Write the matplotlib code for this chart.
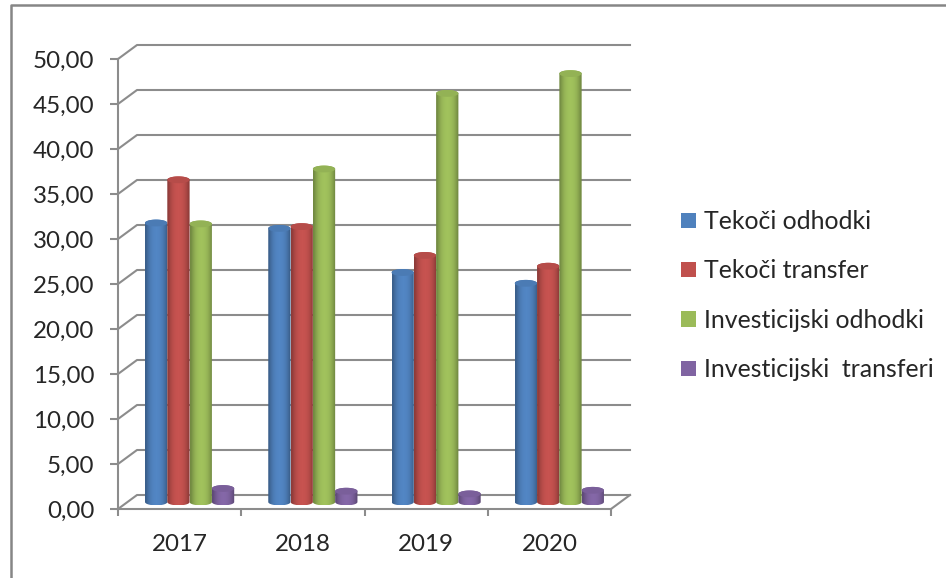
import matplotlib
matplotlib.use('Agg')
import matplotlib.pyplot as plt
from matplotlib.colors import to_rgb
from matplotlib.lines import Line2D
from matplotlib.patches import Patch, PathPatch
from matplotlib.path import Path
import numpy as np

years = ['2017', '2018', '2019', '2020']
series = ['Tekoči odhodki', 'Tekoči transfer', 'Investicijski odhodki', 'Investicijski  transferi']
tekoci_odhodki = [31.0, 30.4, 25.5, 24.3]
tekoci_transfer = [35.8, 30.6, 27.4, 26.2]
inv_odhodki = [30.9, 37.0, 45.4, 47.6]
inv_transferi = [1.5, 1.2, 0.9, 1.3]
colors = ['#4F81BD', '#C0504D', '#9BBB59', '#8064A2']
y_ticks = [0, 5, 10, 15, 20, 25, 30, 35, 40, 45, 50]

W, H = 946, 578
plt.rcParams['font.family'] = ['Lato', 'DejaVu Sans']
line_col = '#8C8C8C'
text_col = '#262626'
font_size = 17.4

fig = plt.figure(figsize=(W / 100, H / 100), dpi=100)
ax = fig.add_axes([0, 0, 1, 1])

# front axis runs 118..611 px in x, 509..59 px in y
px_x = (611 - 118) / 4
px_y = (509 - 59) / 50
ax.set_xlim(-118 / px_x, (W - 118) / px_x)
ax.set_ylim(-(H - 509) / px_y, 509 / px_y)
ax.patch.set_visible(False)

# depth of the fake 3d box
dx = 19 / px_x
dy = 14 / px_y

for s in ['top', 'right']:
    ax.spines[s].set_visible(False)
ax.spines['left'].set_position(('data', 0))
ax.spines['bottom'].set_position(('data', 0))
ax.spines['left'].set_bounds(0, 50)
ax.spines['bottom'].set_bounds(0, 4)
for s in ['left', 'bottom']:
    ax.spines[s].set_color(line_col)
    ax.spines[s].set_linewidth(1.5)

ax.set_yticks(y_ticks)
ax.set_yticklabels(['%d,00' % v for v in y_ticks], fontsize=font_size, color=text_col)
ax.tick_params(axis='y', length=6, width=1.5, color=line_col, pad=11)
ax.set_xticks(range(5))
ax.set_xticklabels([])
ax.tick_params(axis='x', length=5, width=1.5, color=line_col)
ax.set_xticks(np.arange(4) + 0.5, minor=True)
ax.set_xticklabels(years, minor=True, fontsize=font_size, color=text_col)
ax.tick_params(axis='x', which='minor', length=0, pad=18)

# back wall gridlines and floor
for v in y_ticks:
    ax.plot([0, dx, 4 + dx], [v, v + dy, v + dy], color=line_col, lw=1.5, zorder=1, clip_on=False)
ax.plot([4, 4 + dx], [0, dy], color=line_col, lw=1.5, zorder=1)

bar_w = 22.3 / px_x
gap = 17.5 / px_x
ell_h = 3.4 / px_y
shade = np.array([0.74, 0.86, 0.95, 1.0, 1.03, 1.04, 1.03, 1.0, 0.95, 0.86, 0.74])


def cylinder(x, val, col, z):
    t = np.linspace(0, np.pi, 40)
    xc = x + bar_w / 2
    y0 = dy / 2
    y1 = y0 + val
    # outline: bottom curve left to right, then top curve back
    xs = np.concatenate([xc - np.cos(t) * bar_w / 2, xc + np.cos(t) * bar_w / 2])
    ys = np.concatenate([y0 - np.sin(t) * ell_h, y1 + np.sin(t) * ell_h])
    outline = Path(np.column_stack([xs, ys]))
    rgb = np.clip(np.outer(shade, to_rgb(col)), 0, 1)[np.newaxis, :, :]
    im = ax.imshow(rgb, extent=(x, x + bar_w, y0 - ell_h, y1 + ell_h), aspect='auto',
                   interpolation='bilinear', zorder=z)
    clip = PathPatch(outline, transform=ax.transData, fc='none', ec='none')
    ax.add_patch(clip)
    im.set_clip_path(clip)
    # top cap
    xe = xc + np.cos(2 * t) * bar_w / 2
    ye = y1 + np.sin(2 * t) * ell_h
    ax.fill(xe, ye, color=np.clip(np.array(to_rgb(col)) * 0.95, 0, 1), lw=0, zorder=z + 0.1)


values = [tekoci_odhodki, tekoci_transfer, inv_odhodki, inv_transferi]
for k, vals in enumerate(values):
    for i, v in enumerate(vals):
        cylinder(i + gap + dx / 2 + k * bar_w, v, colors[k], 3 + k * 0.2)

# imshow resets the limits
ax.set_xlim(-118 / px_x, (W - 118) / px_x)
ax.set_ylim(-(H - 509) / px_y, 509 / px_y)

# grey outer frame, cut off at right and bottom
fig.add_artist(Line2D([10.5 / W, 10.5 / W, 1], [0, 1 - 5 / H, 1 - 5 / H], color='#868686', lw=1.8))

handles = [Patch(fc=c, ec='none') for c in colors]
fig.legend(handles, series, loc='center left', bbox_to_anchor=(681 / W, 1 - 295.5 / H), frameon=False,
           fontsize=17.9, labelcolor=text_col, handlelength=0.61, handleheight=0.57,
           handletextpad=0.32, labelspacing=1.06, borderpad=0, borderaxespad=0)

fig.savefig('out.png', dpi=100)
